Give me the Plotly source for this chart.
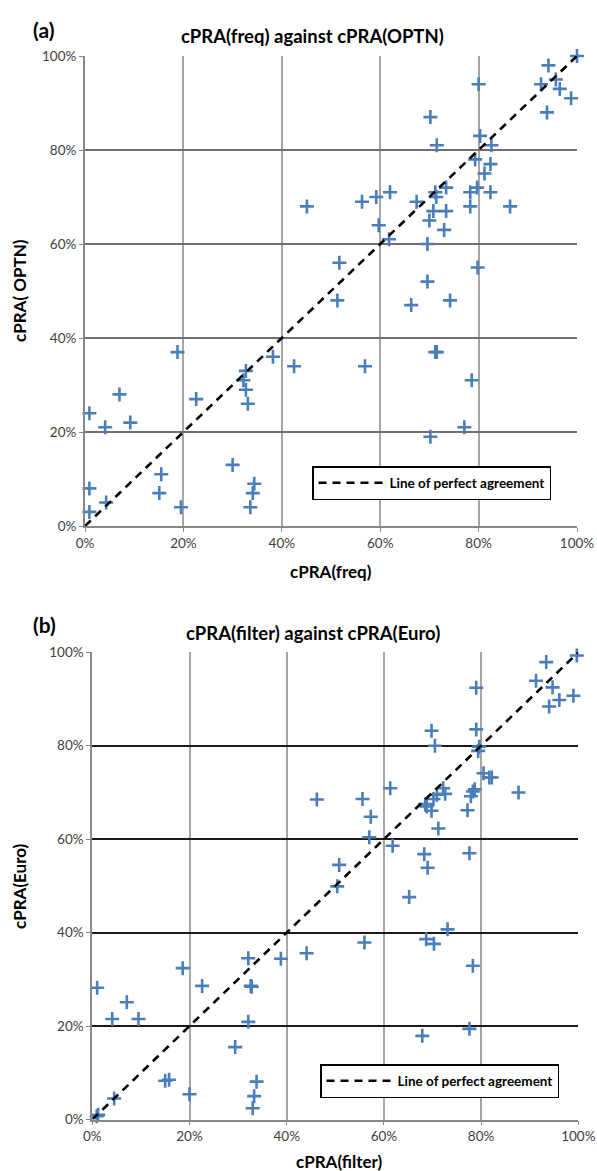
import plotly.graph_objects as go

# ---- Panel (a): cPRA(freq) vs cPRA(OPTN), in percent ----
freq_x = [100, 94.2, 80.0, 92.7, 95.7, 96.5, 98.8, 93.9, 70.2, 80.3, 71.5, 82.6, 79.3, 82.4,
          81.2, 73.4, 79.7, 71.2, 78.3, 62.0, 82.4, 59.2, 71.4, 56.3, 67.4, 78.3, 86.4, 70.8,
          73.4, 70.0, 59.7, 73.0, 61.8, 69.6, 51.7, 79.8, 69.6, 45.1,
          51.3, 66.3, 74.2, 71.2, 71.5, 56.9, 78.6, 77.1, 70.2,
          0.9, 4.1, 7.0, 9.2, 18.8, 22.6, 32.7, 32.2, 32.7, 33.1, 38.2, 42.5,
          0.9, 0.9, 4.3, 15.5, 15.1, 19.5, 30.0, 34.4, 34.1, 33.6]
optn_y = [100, 98, 94, 94, 95, 93, 91, 88, 87, 83, 81, 81, 78, 77,
          75, 72, 72, 71, 71, 71, 71, 70, 70, 69, 69, 68, 68, 67,
          67, 65, 64, 63, 61, 60, 56, 55, 52, 68,
          48, 47, 48, 37, 37, 34, 31, 21, 19,
          24, 21, 28, 22, 37, 27, 33, 31, 29, 26, 36, 34,
          8, 3, 5, 11, 7, 4, 13, 9, 7, 4]

# ---- Panel (b): cPRA(filter) vs cPRA(Euro), in percent ----
filter_x = [99.7, 93.4, 91.3, 94.7, 99.0, 96.1, 94.0, 79.0, 79.0, 69.8, 70.5, 79.6, 79.4,
            80.5, 81.7, 82.2, 87.7, 61.3, 72.2, 72.6, 70.9, 78.7, 78.3, 77.9, 55.6, 70.2,
            68.5, 68.8, 69.8, 77.2, 57.3, 71.2, 57.0, 61.8, 68.3, 77.6, 69.0, 50.8, 50.4,
            65.2, 73.1, 56.0, 68.7, 70.3, 78.3, 77.6, 67.9,
            1.0, 4.1, 7.1, 9.5, 18.6, 22.6, 32.1, 32.6, 32.8, 32.1, 38.8, 44.1, 29.4,
            15.0, 15.8, 20.0, 4.5, 0.9, 1.2, 33.8, 33.3, 33.0, 46.2]
euro_y = [99.3, 97.9, 93.9, 92.5, 90.7, 89.8, 88.4, 92.4, 83.5, 83.2, 80.0, 79.8, 78.9,
          74.1, 73.2, 73.2, 70.0, 70.9, 70.9, 69.7, 69.5, 70.7, 70.2, 69.2, 68.6, 68.6,
          67.5, 67.0, 66.1, 66.2, 64.8, 62.3, 60.4, 58.6, 56.8, 57.0, 53.9, 54.5, 49.9,
          47.6, 40.7, 37.9, 38.6, 37.6, 32.9, 19.4, 17.9,
          28.2, 21.5, 25.1, 21.5, 32.4, 28.6, 34.5, 28.6, 28.4, 20.9, 34.4, 35.6, 15.5,
          8.3, 8.5, 5.4, 4.5, 0.7, 1.0, 8.1, 5.0, 2.4, 68.5]

line_x = [0, 100]
line_y = [0, 100]
tick_vals = [0, 20, 40, 60, 80, 100]
tick_text = ["0%", "20%", "40%", "60%", "80%", "100%"]

W, H = 597, 1171
FONT = "Lato"
BLUE = "#4a7ebb"

fig = go.Figure()

marker = dict(symbol="cross-thin", size=10, color=BLUE, line=dict(color=BLUE, width=2.6))

fig.add_trace(go.Scatter(x=freq_x, y=optn_y, mode="markers", marker=marker, showlegend=False,
                         xaxis="x", yaxis="y", cliponaxis=False))
fig.add_trace(go.Scatter(x=line_x, y=line_y, mode="lines", name="Line of perfect agreement",
                         line=dict(color="black", width=2.6, dash="8px,6px"),
                         xaxis="x", yaxis="y", legend="legend"))
fig.add_trace(go.Scatter(x=filter_x, y=euro_y, mode="markers", marker=marker, showlegend=False,
                         xaxis="x2", yaxis="y2", cliponaxis=False))
fig.add_trace(go.Scatter(x=line_x, y=line_y, mode="lines", name="Line of perfect agreement",
                         line=dict(color="black", width=2.6, dash="8px,6px"),
                         xaxis="x2", yaxis="y2", legend="legend2"))

def px_x(p):
    return p / W

def px_y(p):
    return 1 - p / H

tickfont = dict(family=FONT, size=13.5, color="#404040")

def xax(l, r, anchor, vgrid):
    return dict(domain=[px_x(l), px_x(r)], range=[0, 100], anchor=anchor, automargin=False,
                tickvals=tick_vals, ticktext=tick_text, tickfont=tickfont,
                showgrid=True, gridcolor=vgrid, gridwidth=1.5,
                showline=True, linecolor="#888888", linewidth=1.5,
                ticks="outside", ticklen=4, tickcolor="#888888", zeroline=False,
                fixedrange=True)

def yax(t, b, anchor, hgrid):
    return dict(domain=[px_y(b), px_y(t)], range=[0, 100], anchor=anchor, automargin=False,
                tickvals=tick_vals, ticktext=tick_text, tickfont=tickfont,
                showgrid=True, gridcolor=hgrid, gridwidth=1.5,
                showline=True, linecolor="#888888", linewidth=2,
                ticks="outside", ticklen=4, tickcolor="#888888", zeroline=False,
                fixedrange=True)

annos = []
def ann(text, x, y, size, angle=0, xanchor="center"):
    annos.append(dict(text=text, x=px_x(x), y=px_y(y), xref="paper", yref="paper",
                      showarrow=False, textangle=angle, xanchor=xanchor, yanchor="middle",
                      font=dict(family=FONT, size=size, color="black", weight="bold")))

ann("(a)", 31, 30, 21, xanchor="left")
ann("cPRA(freq) against cPRA(OPTN)", 312, 36, 18.5)
ann("cPRA( OPTN)", 19, 291, 17, angle=-90)
ann("cPRA(freq)", 331, 571, 17)

ann("(b)", 31, 624, 21, xanchor="left")
ann("cPRA(filter) against cPRA(Euro)", 313, 633, 18.5)
ann("cPRA(Euro)", 19, 886, 17, angle=-90)
ann("cPRA(filter)", 339, 1161, 17)

legend_common = dict(bgcolor="white", bordercolor="black", borderwidth=1.5,
                     font=dict(family=FONT, size=13.5, color="black", weight="bold"),
                     xref="paper", yref="paper", xanchor="left", yanchor="top",
                     itemwidth=66, tracegroupgap=0)

fig.update_layout(
    width=W, height=H,
    margin=dict(l=0, r=0, t=0, b=0),
    paper_bgcolor="white", plot_bgcolor="white",
    showlegend=True,
    xaxis=xax(85, 577, "y", "#a6a6a6"),
    yaxis=yax(56, 526, "x", "#707070"),
    xaxis2=xax(92.3, 578.3, "y2", "#a6a6a6"),
    yaxis2=yax(652.3, 1119.5, "x2", "#1a1a1a"),
    legend=dict(x=px_x(312), y=px_y(466), **legend_common),
    legend2=dict(x=px_x(320), y=px_y(1064), **legend_common),
    annotations=annos,
)

fig.write_html("out.html", config={"displayModeBar": False},
               post_script="document.body.style.margin='0';document.body.style.overflow='hidden';")
